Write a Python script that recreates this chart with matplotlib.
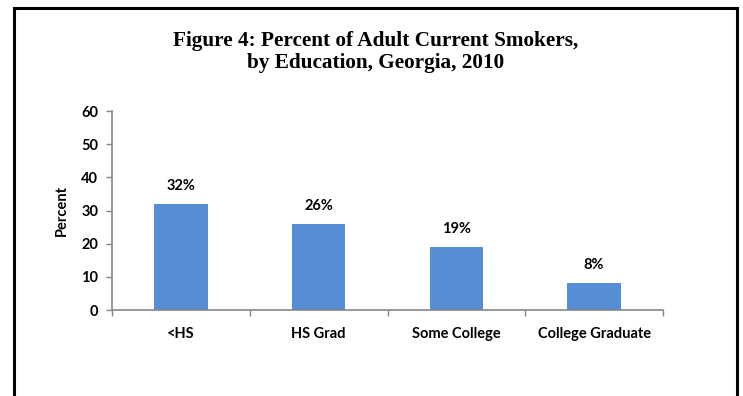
import matplotlib
matplotlib.use("Agg")
import matplotlib.pyplot as plt
from matplotlib.patches import Rectangle

categories = ["<HS", "HS Grad", "Some College", "College Graduate"]
percents = [32, 26, 19, 8]
y_ticks = [0, 10, 20, 30, 40, 50, 60]

bar_color = "#558ED5"
axis_gray = "#868686"
label_font = "Lato"

fig = plt.figure(figsize=(7.43, 3.96), dpi=100)

# black frame round the whole chart (bottom edge runs off the page)
fig.patches.append(Rectangle((13.5 / 743, -0.1), 723.5 / 743, 1.1 - 8.5 / 396,
                             transform=fig.transFigure, fill=False,
                             edgecolor="black", linewidth=2.2))

fig.text(0.505, 1 - 52 / 396, "Figure 4: Percent of Adult Current Smokers,\nby Education, Georgia, 2010",
         ha="center", va="center", family="Liberation Serif", weight="bold",
         fontsize=15.3, linespacing=1.15)

ax = fig.add_axes([112 / 743, 1 - 310 / 396, 551 / 743, 199 / 396])
x = list(range(len(categories)))
bars = ax.bar(x, percents, width=0.39, color=bar_color, zorder=2)

for xi, v in zip(x, percents):
    ax.annotate(f"{v}%", (xi, v), xytext=(0, 8), textcoords="offset points",
                ha="center", va="bottom", family=label_font, weight="bold",
                fontsize=10.5)

ax.set_xlim(-0.5, len(categories) - 0.5)
ax.set_ylim(0, 60)
ax.set_yticks(y_ticks)
ax.set_yticklabels([str(t) for t in y_ticks], family=label_font, weight="bold", fontsize=10.5)

# tick marks on the category boundaries, labels under the bars
ax.set_xticks([i - 0.5 for i in range(len(categories) + 1)])
ax.set_xticklabels([])
ax.set_xticks(x, minor=True)
ax.set_xticklabels(categories, minor=True, family=label_font, weight="bold", fontsize=10.5)
ax.tick_params(axis="x", which="minor", length=0, pad=12)
ax.tick_params(axis="both", which="major", direction="out", length=4,
               color=axis_gray, width=1)
ax.tick_params(axis="y", pad=6)

ax.set_ylabel("Percent", family=label_font, weight="bold", fontsize=10.5, labelpad=9)

for side in ["top", "right"]:
    ax.spines[side].set_visible(False)
for side in ["left", "bottom"]:
    ax.spines[side].set_color(axis_gray)
    ax.spines[side].set_linewidth(1.2)

fig.savefig("out.png", dpi=100)
